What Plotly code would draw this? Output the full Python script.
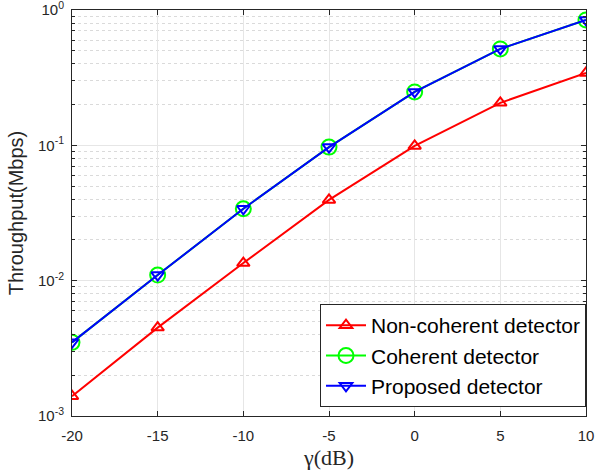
import plotly.graph_objects as go

snr_db = [-20, -15, -10, -5, 0, 5, 10]
noncoherent = [0.0014, 0.0045, 0.0135, 0.0395, 0.099, 0.206, 0.343]
coherent = [0.0035, 0.011, 0.034, 0.097, 0.248, 0.516, 0.845]
proposed = [0.0035, 0.011, 0.034, 0.097, 0.248, 0.516, 0.845]

y_tickvals = [1e-3, 1e-2, 1e-1, 1]
y_ticktext = ["10<sup>-3</sup>", "10<sup>-2</sup>", "10<sup>-1</sup>", "10<sup>0</sup>"]
y_minor = [m * 10 ** e for e in (-3, -2, -1) for m in range(2, 10)]

SANS = "Liberation Sans, Arial, sans-serif"

fig = go.Figure()
fig.add_trace(go.Scatter(x=snr_db, y=noncoherent, mode="lines+markers", name="Non-coherent detector",
                         line=dict(color="#ff0000", width=2),
                         marker=dict(symbol="triangle-up-open", size=11, color="#ff0000", line=dict(width=2))))
fig.add_trace(go.Scatter(x=snr_db, y=coherent, mode="lines+markers", name="Coherent detector",
                         line=dict(color="#00ff00", width=2),
                         marker=dict(symbol="circle-open", size=15, color="#00ff00", line=dict(width=2))))
fig.add_trace(go.Scatter(x=snr_db, y=proposed, mode="lines+markers", name="Proposed detector",
                         line=dict(color="#0000ff", width=2),
                         marker=dict(symbol="triangle-down-open", size=11, color="#0000ff", line=dict(width=2))))

axis_common = dict(showline=True, linecolor="#262626", linewidth=1, mirror="allticks",
                   ticks="inside", ticklen=5, tickcolor="#262626",
                   tickfont=dict(family=SANS, size=15, color="#262626"),
                   showgrid=True, gridcolor="#e6e6e6", gridwidth=1, zeroline=False,
                   automargin=False, ticklabeloverflow="allow")

fig.update_xaxes(range=[-20, 10], tickvals=snr_db, ticktext=[str(v) for v in snr_db],
                 ticklabelstandoff=6,
                 title=dict(text="γ(dB)", font=dict(family="Liberation Serif, DejaVu Serif, serif", size=22, color="#262626"), standoff=6),
                 **axis_common)
fig.update_yaxes(type="log", range=[-3, 0], tickvals=y_tickvals, ticktext=y_ticktext,
                 ticklabelstandoff=4,
                 title=dict(text="Throughput(Mbps)", font=dict(family=SANS, size=20, color="#262626"), standoff=8),
                 minor=dict(tickvals=y_minor, ticks="inside", ticklen=3, tickcolor="#262626",
                            showgrid=True, gridcolor="#dadada", griddash="dot", gridwidth=1),
                 **axis_common)

fig.update_layout(width=596, height=476, margin=dict(l=72, r=10, t=10, b=60),
                  plot_bgcolor="white", paper_bgcolor="white",
                  legend=dict(x=1.0, y=0.022, xanchor="right", yanchor="bottom",
                              bgcolor="white", bordercolor="#262626", borderwidth=1,
                              font=dict(family=SANS, size=21, color="black"),
                              tracegroupgap=0, itemwidth=40))

fig.write_html("out.html")
